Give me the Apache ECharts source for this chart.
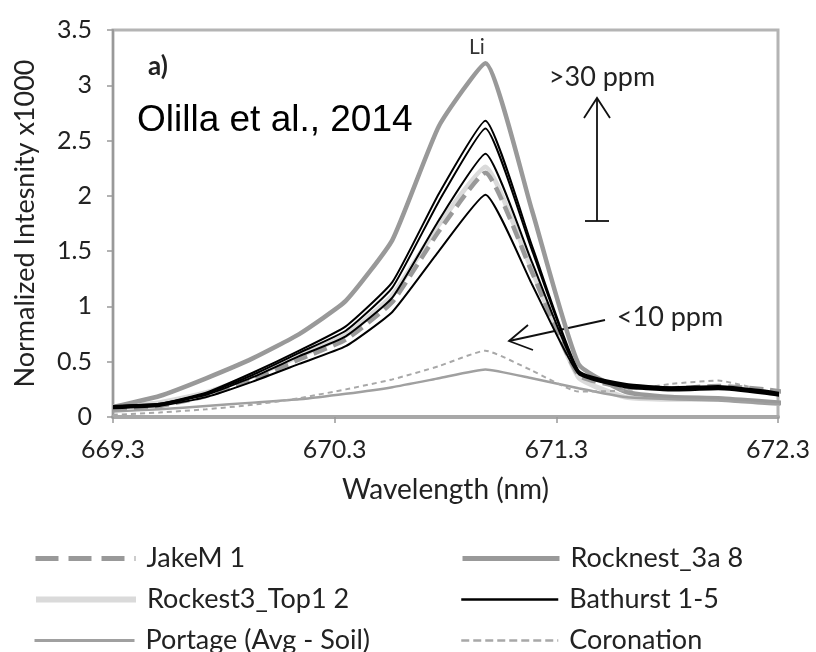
<!DOCTYPE html>
<html>
<head>
<meta charset="utf-8">
<script src="https://cdn.jsdelivr.net/npm/echarts@6/dist/echarts.min.js"></script>
<style>
html,body{margin:0;padding:0;background:#fff;}
#c{width:816px;height:652px;}
</style>
</head>
<body>
<div id="c"></div>
<script>
// Wavelength samples (nm)
const wavelength = [669.30, 669.51, 669.72, 669.93, 670.14, 670.35, 670.56, 670.77, 670.98, 671.19, 671.40, 671.61, 671.82, 672.03, 672.24, 672.45];
// Normalized intensity x1000
const jakeM1       = [0.07, 0.10, 0.19, 0.34, 0.52, 0.70, 1.04, 1.68, 2.21, 1.31, 0.38, 0.27, 0.26, 0.28, 0.25, 0.19];
const rocknest3a8  = [0.09, 0.19, 0.35, 0.53, 0.75, 1.05, 1.60, 2.63, 3.20, 1.87, 0.48, 0.23, 0.18, 0.17, 0.14, 0.11];
const rockest3Top1 = [0.09, 0.13, 0.22, 0.37, 0.55, 0.74, 1.10, 1.74, 2.26, 1.33, 0.36, 0.18, 0.16, 0.16, 0.13, 0.11];
const bathurstA    = [0.10, 0.12, 0.22, 0.40, 0.60, 0.82, 1.22, 2.02, 2.68, 1.55, 0.42, 0.30, 0.27, 0.28, 0.24, 0.17];
const bathurstB    = [0.10, 0.12, 0.21, 0.38, 0.58, 0.78, 1.17, 1.95, 2.61, 1.51, 0.41, 0.29, 0.26, 0.27, 0.23, 0.17];
const bathurstC    = [0.09, 0.11, 0.20, 0.36, 0.55, 0.73, 1.08, 1.78, 2.38, 1.40, 0.40, 0.28, 0.25, 0.26, 0.22, 0.16];
const bathurstD    = [0.08, 0.10, 0.18, 0.32, 0.48, 0.64, 0.95, 1.50, 2.01, 1.20, 0.39, 0.27, 0.24, 0.25, 0.21, 0.15];
const portage      = [0.05, 0.07, 0.10, 0.13, 0.16, 0.21, 0.27, 0.35, 0.43, 0.35, 0.26, 0.18, 0.16, 0.15, 0.12, 0.10];
const coronation   = [0.02, 0.04, 0.07, 0.11, 0.17, 0.25, 0.34, 0.46, 0.60, 0.42, 0.23, 0.24, 0.30, 0.33, 0.24, 0.18];

const xTicks = [669.3, 670.3, 671.3, 672.3];
const yTicks = [0, 0.5, 1, 1.5, 2, 2.5, 3, 3.5];
const X0 = xTicks[0];

const FONT = 'Lato';
function pts(arr){ return wavelength.map((w,i)=>[+(w - X0).toFixed(3), arr[i]]); }
function line(name, arr, color, width, type, z){
  return {name:name, type:'line', data:pts(arr), showSymbol:false, symbol:'none', smooth:0.15, clip:true,
    lineStyle:{color:color, width:width, type:type||'solid', cap:'butt'}, itemStyle:{color:color}, z:z||2, silent:true};
}

const legendText = {color:'#222', fontFamily:FONT, fontSize:27, padding:[0,0,0,6]};
function leg(name, left, top, w, ls){
  return {orient:'horizontal', left:left, top:top, padding:0, itemWidth:w, itemHeight:14,
    itemStyle:{opacity:0}, data:[{name:name, lineStyle:ls}], textStyle:legendText, selectedMode:false};
}
const chart = echarts.init(document.getElementById('c'), null, {renderer:'canvas'});
chart.setOption({
  animation:false,
  backgroundColor:'#fff',
  grid:{left:113, right:38, top:30, bottom:235, show:true, borderColor:'#b4b4b4', borderWidth:3, containLabel:false},
  xAxis:{type:'value', min:0, max:xTicks[3]-X0, interval:1,
    axisLine:{show:true, lineStyle:{color:'#a8a8a8', width:4}},
    axisTick:{show:true, length:6, lineStyle:{color:'#999', width:1.5}},
    splitLine:{show:false},
    axisLabel:{color:'#222', fontFamily:FONT, fontSize:25, margin:20, formatter:v=>(v+X0).toFixed(1)},
    name:'Wavelength (nm)', nameLocation:'middle', nameGap:59,
    nameTextStyle:{color:'#222', fontFamily:FONT, fontSize:28}},
  yAxis:{type:'value', min:yTicks[0], max:yTicks[yTicks.length-1], interval:0.5,
    axisLine:{show:true, lineStyle:{color:'#999', width:2}},
    axisTick:{show:true, length:6, lineStyle:{color:'#999', width:1.5}},
    splitLine:{show:false},
    axisLabel:{color:'#222', fontFamily:FONT, fontSize:25, margin:21},
    name:'Normalized Intesnity x1000', nameLocation:'middle', nameGap:74,
    nameTextStyle:{color:'#222', fontFamily:FONT, fontSize:27}},
  legend:[
    leg('JakeM 1', 33, 545, 100, {type:[23,10], width:5}),
    leg('Rockest3_Top1 2', 33, 586, 100, {width:6}),
    leg('Portage (Avg - Soil)', 33, 627, 100, {width:3}),
    leg('Rocknest_3a 8', 460, 545, 97, {width:5}),
    leg('Bathurst 1-5', 460, 586, 97, {width:2.5}),
    leg('Coronation', 460, 627, 97, {type:[8,4], width:2.5})
  ],
  series:[
    line('Rockest3_Top1 2', rockest3Top1, '#dadada', 5, 'solid', 1),
    line('JakeM 1', jakeM1, '#999999', 4.5, [14,7], 3),
    line('Rocknest_3a 8', rocknest3a8, '#999999', 4.5, 'solid', 2),
    line('Bathurst 1-5', bathurstA, '#000000', 2, 'solid', 4),
    line('Bathurst 1-5', bathurstB, '#000000', 2, 'solid', 4),
    line('Bathurst 1-5', bathurstC, '#000000', 2, 'solid', 4),
    line('Bathurst 1-5', bathurstD, '#000000', 2, 'solid', 4),
    line('Portage (Avg - Soil)', portage, '#a0a0a0', 2.5, 'solid', 2),
    line('Coronation', coronation, '#a8a8a8', 2, [5,4], 2)
  ],
  graphic:[
    {type:'text', x:158, y:67, style:{text:'a)', font:'bold 26px Lato', fill:'#222', textAlign:'center', textVerticalAlign:'middle'}},
    {type:'text', x:137, y:121, style:{text:'Olilla et al., 2014', font:'37px "Liberation Sans", Arial', fill:'#000', textVerticalAlign:'middle'}},
    {type:'text', x:477, y:47, style:{text:'Li', font:'21px Lato', fill:'#333', textAlign:'center', textVerticalAlign:'middle'}},
    {type:'text', x:602, y:77, style:{text:'>30 ppm', font:'27px Lato', fill:'#222', textAlign:'center', textVerticalAlign:'middle'}},
    {type:'text', x:670, y:317, style:{text:'<10 ppm', font:'27px Lato', fill:'#222', textAlign:'center', textVerticalAlign:'middle'}},
    {type:'line', shape:{x1:597, y1:221, x2:597, y2:98}, style:{stroke:'#111', lineWidth:1.8}},
    {type:'line', shape:{x1:585, y1:221, x2:609, y2:221}, style:{stroke:'#111', lineWidth:1.8}},
    {type:'polyline', shape:{points:[[584,118],[597,98],[610,118]]}, style:{stroke:'#111', lineWidth:1.8, fill:null}},
    {type:'line', shape:{x1:605, y1:320, x2:509, y2:341}, style:{stroke:'#111', lineWidth:1.8}},
    {type:'polyline', shape:{points:[[528,325],[509,341],[533,350]]}, style:{stroke:'#111', lineWidth:1.8, fill:null}}
  ]
});
</script>
</body>
</html>
